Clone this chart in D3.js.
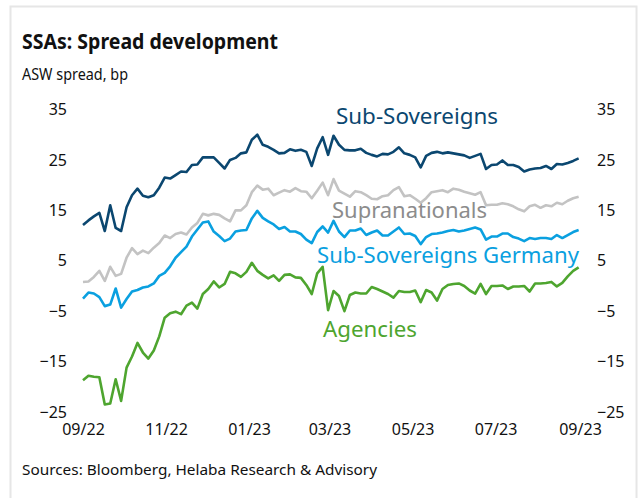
<!DOCTYPE html>
<html><head><meta charset="utf-8">
<script src="https://cdn.jsdelivr.net/npm/d3@7"></script>
<style>body{margin:0;background:#fff} svg{display:block} text{font-family:"Noto Sans",sans-serif}</style>
</head><body><svg id="c" width="640" height="498"></svg>
<script>
// ---- data (ASW spread, bp) sampled every 4 days, 01.09.2022 - 31.08.2023 ----
const startDate = new Date(2022, 8, 1);
const endDate = new Date(2023, 8, 1);
const dates = d3.timeDay.range(startDate, endDate, 4);

const subSovereigns = [12.1,13.0,13.8,14.5,10.9,16.0,11.5,10.9,15.6,18.0,
19.3,17.9,17.6,18.0,19.5,21.5,21.3,22.0,22.7,22.6,
24.0,24.1,25.5,25.5,25.5,24.4,23.3,25.0,25.4,26.3,
26.5,29.0,30.0,28.0,27.6,27.0,26.3,26.4,27.1,26.8,
27.0,26.6,23.8,27.3,29.5,26.0,29.8,28.0,27.0,26.9,
26.9,27.2,26.4,26.0,25.7,26.2,26.1,26.6,27.5,26.3,
26.0,25.5,23.5,25.8,26.4,26.6,26.3,26.5,26.3,26.1,
25.9,25.4,25.8,26.2,23.2,24.0,24.1,24.9,24.0,24.0,
23.6,22.7,23.1,23.3,23.4,23.8,23.2,24.2,24.1,24.4,
24.8,25.3];

const supranationals = [0.8,0.9,1.8,3.0,1.0,3.8,2.0,2.4,5.6,7.5,
6.3,7.0,6.5,7.6,8.5,10.0,9.5,10.3,10.6,10.2,
11.6,12.5,14.3,14.0,14.3,14.1,13.4,12.8,15.0,15.0,
16.0,18.6,19.9,19.1,19.3,18.0,18.5,19.0,18.7,19.4,
18.8,18.7,17.4,18.9,20.5,18.0,21.2,18.9,18.3,17.7,
18.8,18.6,18.0,17.3,17.2,17.8,18.0,19.0,19.6,17.8,
18.0,17.3,16.5,17.4,18.6,18.8,19.0,18.6,19.3,19.1,
18.7,18.4,18.1,18.6,16.0,16.1,16.1,16.4,16.2,15.8,
15.2,14.8,15.8,16.1,15.5,16.0,15.8,16.5,16.2,16.9,
17.4,17.7];

const subSovereignsGermany = [-2.5,-1.3,-1.5,-2.2,-4.0,-3.7,-0.5,-4.3,-2.6,-1.1,
-0.8,-0.3,-0.1,0.5,2.0,2.6,3.9,5.6,6.7,7.8,
9.8,11.2,12.6,12.8,10.8,9.9,8.9,9.4,10.8,11.0,
11.1,13.4,14.9,13.5,12.8,12.2,11.3,11.7,10.8,10.8,
10.3,9.2,8.5,10.7,11.8,10.6,12.9,10.8,9.7,11.0,
11.0,11.4,10.1,10.6,11.0,10.0,10.0,10.8,11.6,10.3,
10.4,9.9,8.3,9.7,10.3,10.4,10.6,10.9,11.1,10.8,
11.0,11.3,11.6,11.2,9.2,9.8,9.8,10.4,10.4,9.7,
9.4,8.9,9.5,9.3,9.5,9.5,9.3,10.1,9.5,10.1,
10.7,11.1];

const agencies = [-18.7,-17.8,-18.0,-18.1,-23.5,-23.3,-18.5,-22.8,-16.2,-14.0,
-11.3,-13.2,-14.4,-12.8,-10.0,-6.3,-5.4,-5.1,-5.6,-3.9,
-3.3,-4.5,-1.6,-0.6,0.9,-0.3,0.4,2.8,2.5,1.8,
2.8,4.6,3.0,2.2,1.5,2.1,1.0,2.2,2.3,1.7,
1.6,0.2,-1.6,2.5,3.8,-4.8,-1.0,-2.0,-5.0,-1.8,
-1.3,-1.5,-1.5,-0.2,-0.6,-1.1,-1.6,-2.3,-1.0,-1.2,
-1.2,-0.9,-3.2,-0.8,-1.3,-2.9,-0.6,0.2,0.4,0.5,
0.0,-0.9,-1.5,0.4,-1.6,0.0,0.0,0.1,-0.6,-0.1,
-0.1,0.0,-1.1,0.5,0.5,0.6,0.8,-0.1,0.6,1.9,
3.0,3.7];

const yTicks = [-25, -15, -5, 5, 15, 25, 35];
const xTickDates = [new Date(2022,8,1), new Date(2022,10,1), new Date(2023,0,1), new Date(2023,2,1), new Date(2023,4,1), new Date(2023,6,1), new Date(2023,8,1)];

const seriesNames = ["Sub-Sovereigns", "Supranationals", "Sub-Sovereigns Germany", "Agencies"];
const seriesValues = [subSovereigns, supranationals, subSovereignsGermany, agencies];
const lineColors = ["#0b4770", "#c3c3c3", "#0aa0e0", "#4ea52f"];
const labelColors = ["#0b4770", "#8c8c8c", "#0aa0e0", "#4ea52f"];

// ---- drawing ----
const svg = d3.select("#c");
svg.append("rect").attr("x",10.5).attr("y",6.5).attr("width",626).attr("height",500)
  .attr("fill","none").attr("stroke","#e6e6e6").attr("stroke-width",2);

svg.append("text").attr("x",22).attr("y",49).attr("font-size",22).attr("font-weight","bold")
  .attr("fill","#111").attr("textLength",256).attr("lengthAdjust","spacingAndGlyphs")
  .text("SSAs: Spread development");
svg.append("text").attr("x",22).attr("y",80).attr("font-size",16).attr("fill","#111")
  .attr("textLength",106).attr("lengthAdjust","spacingAndGlyphs").text("ASW spread, bp");
svg.append("text").attr("x",22).attr("y",475).attr("font-size",15).attr("fill","#111")
  .attr("textLength",355).attr("lengthAdjust","spacingAndGlyphs")
  .text("Sources: Bloomberg, Helaba Research & Advisory");

const x = d3.scaleTime().domain([startDate, endDate]).range([83, 580]);
const y = d3.scaleLinear().domain([-25, 35]).range([412, 109.5]);

const axL = svg.append("g").attr("transform","translate(67,0)")
  .call(d3.axisLeft(y).tickValues(yTicks).tickSize(0).tickPadding(0).tickFormat(d3.format("d")));
const axR = svg.append("g").attr("transform","translate(597,0)")
  .call(d3.axisRight(y).tickValues(yTicks).tickSize(0).tickPadding(0).tickFormat(d3.format("d")));
const axB = svg.append("g").attr("transform","translate(0,424)")
  .call(d3.axisBottom(x).tickValues(xTickDates).tickSize(0).tickPadding(0).tickFormat(d3.timeFormat("%m/%y")));
[axL, axR, axB].forEach(a => {
  a.select(".domain").remove();
  a.selectAll("text").attr("font-size",16).attr("fill","#111").attr("font-family","'Noto Sans',sans-serif");
});

const line = d3.line().x((d,i) => x(dates[i])).y(d => y(d)).curve(d3.curveLinear);
seriesValues.forEach((vals, k) => {
  svg.append("path").datum(vals).attr("d", line).attr("fill","none")
    .attr("stroke", lineColors[k]).attr("stroke-width",2.6).attr("stroke-linejoin","round");
});

const labelPos = [[336,124],[332,218],[317,263],[323,337]];
const labelWidths = [162,155,262,94];
seriesNames.forEach((n,k) => {
  svg.append("text").attr("x",labelPos[k][0]).attr("y",labelPos[k][1]).attr("font-size",22)
    .attr("fill",labelColors[k]).attr("textLength",labelWidths[k]).attr("lengthAdjust","spacingAndGlyphs").text(n);
});
</script></body></html>
